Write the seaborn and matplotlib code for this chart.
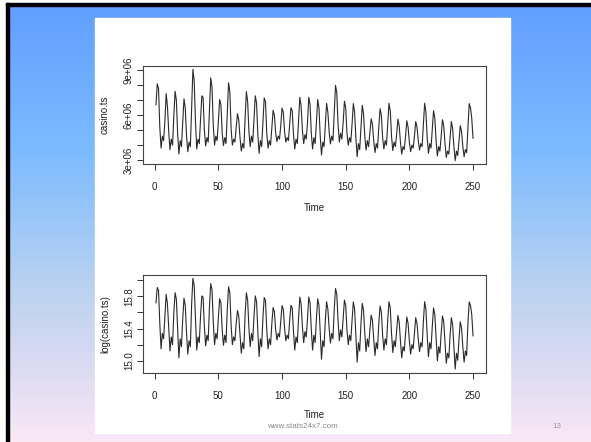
import numpy as np
import pandas as pd
import matplotlib
matplotlib.use("Agg")
import matplotlib.pyplot as plt
from matplotlib.patches import Rectangle
from matplotlib.colors import LinearSegmentedColormap
import seaborn as sns

plt.rcParams['font.family'] = ['Liberation Sans', 'DejaVu Sans']

# casino.ts values (millions), t = 1..250
casino_millions = [
    6.7, 8.1, 7.8, 5.2, 3.8, 4.6, 4.3,
    5.6, 7.45, 6.6, 4.9, 3.7, 4.4, 4.0,
    5.9, 7.6, 7.0, 4.8, 3.4, 4.3, 3.9,
    5.5, 7.1, 6.5, 4.6, 3.56, 4.2, 3.9,
    6.6, 9.07, 8.3, 5.6, 3.74, 4.4, 4.1,
    5.7, 7.3, 7.2, 5.0, 3.94, 4.5, 4.2,
    6.4, 8.5, 7.9, 5.3, 4.0, 4.6, 4.3,
    5.6, 7.05, 6.7, 4.8, 3.97, 4.5, 4.1,
    6.2, 8.17, 7.6, 5.1, 4.0, 4.4, 4.2,
    5.2, 6.1, 5.7, 4.5, 3.6, 4.1, 3.8,
    5.8, 7.58, 6.9, 4.9, 3.9, 4.6, 4.2,
    5.7, 7.3, 6.8, 4.7, 3.45, 4.3, 3.9,
    5.6, 7.16, 6.9, 4.8, 3.8, 4.3, 4.0,
    5.2, 6.33, 6.0, 4.8, 4.24, 4.6, 4.4,
    5.3, 6.48, 6.2, 4.9, 4.2, 4.5, 4.3,
    5.4, 6.5, 6.3, 4.7, 3.74, 4.4, 4.1,
    5.6, 7.2, 6.6, 5.0, 4.1, 4.7, 4.4,
    5.5, 7.2, 6.7, 4.8, 3.74, 4.5, 4.1,
    5.5, 7.05, 6.5, 4.6, 3.34, 4.2, 3.9,
    5.4, 6.8, 6.2, 4.9, 4.08, 4.6, 4.3,
    6.2, 8.0, 7.5, 5.4, 4.2, 4.8, 4.4,
    5.5, 6.93, 6.5, 4.8, 4.0, 4.5, 4.2,
    5.4, 6.78, 6.2, 4.5, 3.22, 4.1, 3.7,
    5.2, 6.66, 6.1, 4.6, 3.67, 4.3, 3.9,
    4.8, 5.76, 5.4, 4.3, 3.5, 4.1, 3.8,
    5.2, 6.44, 6.0, 4.5, 3.74, 4.3, 4.0,
    5.4, 6.8, 6.3, 4.6, 3.63, 4.2, 3.9,
    4.7, 5.74, 5.3, 4.2, 3.4, 3.9, 3.7,
    4.6, 5.63, 5.2, 4.2, 3.56, 4.0, 3.8,
    4.6, 5.58, 5.2, 4.3, 3.67, 4.1, 3.9,
    5.3, 6.8, 6.2, 4.5, 3.45, 4.1, 3.8,
    5.0, 6.3, 5.8, 4.3, 3.27, 3.9, 3.6,
    4.6, 5.7, 5.3, 4.1, 3.18, 3.6, 3.4,
    4.5, 5.58, 5.1, 3.9, 2.96, 3.6, 3.3,
    4.3, 5.3, 4.9, 3.9, 3.22, 3.7, 3.5,
    5.2, 6.78, 6.5, 5.8, 4.46,
]
time_index = list(range(1, len(casino_millions) + 1))

x_ticks = [0, 50, 100, 150, 200, 250]
y1_ticks = [3e6, 4e6, 5e6, 6e6, 7e6, 8e6, 9e6]
y1_labels = ["3e+06", "", "", "6e+06", "", "", "9e+06"]
y2_ticks = [15.0, 15.2, 15.4, 15.6, 15.8, 16.0]
y2_labels = ["15.0", "", "15.4", "", "15.8", ""]

df = pd.DataFrame({"Time": time_index,
                   "casino": np.array(casino_millions) * 1e6})
df["logcasino"] = np.log(df["casino"])

W, H = 591, 442
fig = plt.figure(figsize=(W / 100, H / 100), dpi=100, facecolor="white")

# slide gradient background
bg = fig.add_axes([0, 0, 1, 1], zorder=-10)
stops = [(0.0, (96/255, 158/255, 255/255)),
         (0.35, (126/255, 188/255, 255/255)),
         (0.65, (186/255, 210/255, 240/255)),
         (0.85, (222/255, 220/255, 242/255)),
         (1.0, (250/255, 232/255, 247/255))]
cmap = LinearSegmentedColormap.from_list("slide", stops)
grad = np.linspace(0, 1, 442).reshape(-1, 1)
bg.imshow(grad, aspect="auto", cmap=cmap, extent=[0, W, H, 0])
bg.set_xlim(0, W)
bg.set_ylim(H, 0)
bg.axis("off")
# white outside the slide border
bg.add_patch(Rectangle((0, 0), W, 3, color="white", zorder=1))
bg.add_patch(Rectangle((0, 0), 6, H, color="white", zorder=1))
# black slide border (left, top)
bg.add_patch(Rectangle((6, 3), 3, H, color="black", zorder=2))
bg.add_patch(Rectangle((6, 3), W, 3, color="black", zorder=2))
# white content panel
bg.add_patch(Rectangle((95, 18), 415, 414.7, color="white", zorder=2))
bg.text(302, 427, "www.stats24x7.com", fontsize=5.8, color="#8a8a8a",
        ha="center", va="center", zorder=3)
bg.text(557, 427, "13", fontsize=5.8, color="#999999",
        ha="center", va="center", zorder=3)


def fx(px):
    return px / W


def fy(py):
    return 1 - py / H


def make_axes(top, bottom):
    left, right = 143.3, 485.7
    return fig.add_axes([fx(left), fy(bottom), fx(right) - fx(left),
                         (bottom - top) / H])


def style(ax, yt, ylab, ylabel, label_y_frac):
    ax.set_facecolor("white")
    ax.set_xlim(1 - 249 * 0.04, 250 + 249 * 0.04)
    ax.set_xticks(x_ticks)
    ax.set_xticklabels([str(v) for v in x_ticks])
    ax.set_yticks(yt)
    ax.set_yticklabels(ylab, rotation=90, va="center")
    ax.tick_params(axis="x", direction="out", length=4.5, width=0.7,
                   pad=8.5, labelsize=7, color="#333333", labelcolor="#222222")
    ax.tick_params(axis="y", direction="out", length=4.5, width=0.7,
                   pad=2.2, labelsize=7, color="#333333", labelcolor="#222222")
    for s in ax.spines.values():
        s.set_color("#444444")
        s.set_linewidth(0.8)
    ax.set_xlabel("Time", fontsize=7, color="#222222", va="center")
    ax.xaxis.set_label_coords(0.5, label_y_frac)
    ax.set_ylabel(ylabel, fontsize=7, color="#222222", va="center")
    ax.yaxis.set_label_coords(-0.112, 0.5)
    ax.grid(False)


ax1 = make_axes(65.7, 164.3)
sns.lineplot(data=df, x="Time", y="casino", ax=ax1, color="#2a2a2a",
             linewidth=0.8)
r = df["casino"].max() - df["casino"].min()
ax1.set_ylim(df["casino"].min() - 0.04 * r, df["casino"].max() + 0.04 * r)
style(ax1, y1_ticks, y1_labels, "casino.ts", -0.446)

ax2 = make_axes(274.7, 372.7)
sns.lineplot(data=df, x="Time", y="logcasino", ax=ax2, color="#2a2a2a",
             linewidth=0.8)
r2 = df["logcasino"].max() - df["logcasino"].min()
ax2.set_ylim(df["logcasino"].min() - 0.04 * r2, df["logcasino"].max() + 0.04 * r2)
style(ax2, y2_ticks, y2_labels, "log(casino.ts)", -0.432)

fig.savefig("out.png", dpi=100, facecolor="white")
